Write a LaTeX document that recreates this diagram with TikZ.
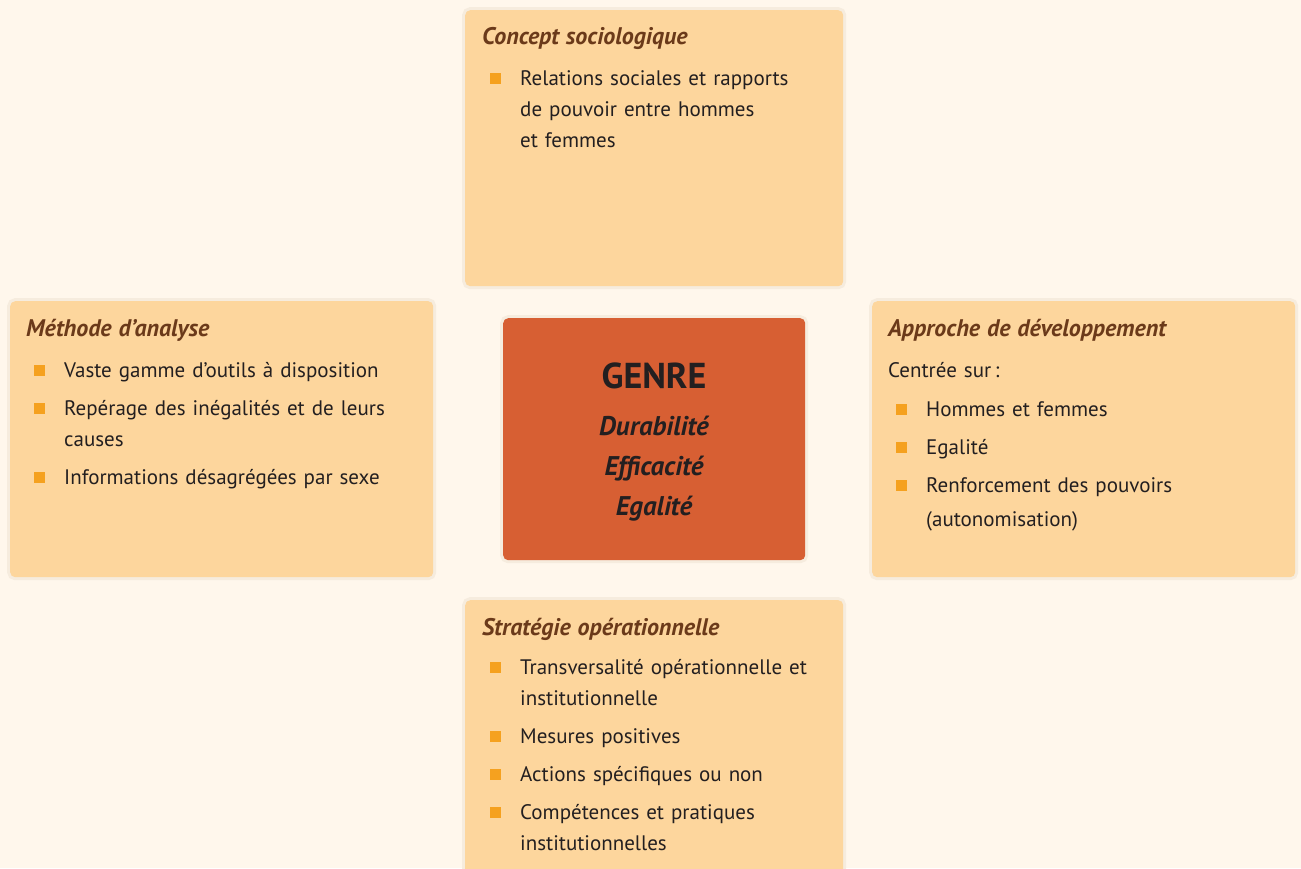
\documentclass[tikz,border=0pt]{standalone}
\usepackage{fontspec}
\setmainfont{PT Sans}
\usepackage{xcolor}
\usepackage{tikz}
\usetikzlibrary{positioning,calc}
\definecolor{bgcream}{HTML}{FFF7EC}
\definecolor{boxfill}{HTML}{FDD69D}
\definecolor{genrefill}{HTML}{D75F33}
\definecolor{bulletc}{HTML}{F5A11F}
\definecolor{titlec}{HTML}{6B3A1A}
\definecolor{textc}{HTML}{231F20}
\definecolor{haloc}{HTML}{F6ECDE}
\tikzstyle{card} = [rectangle, rounded corners=5pt, fill=boxfill, anchor=north west, preaction={draw=haloc, line width=6pt}]
\tikzstyle{genre} = [rectangle, rounded corners=5pt, fill=genrefill, anchor=north west, preaction={draw=haloc, line width=6pt}]
\tikzstyle{cardtext} = [anchor=north west, inner sep=0pt, align=left, text=textc, font=\fontsize{21}{31}\selectfont]
\newcommand{\cardtitle}[1]{{\color{titlec}\fontsize{24}{31}\selectfont\bfseries\itshape #1}\par}
\newenvironment{cardlist}{\begin{list}{\textcolor{bulletc}{\raisebox{1pt}{\rule{11pt}{11pt}}}}{\setlength{\leftmargin}{38pt}\setlength{\labelwidth}{11pt}\setlength{\labelsep}{19pt}\setlength{\itemsep}{7pt}\setlength{\topsep}{0pt}\setlength{\parsep}{0pt}\setlength{\partopsep}{0pt}}}{\end{list}}
\begin{document}
\begin{tikzpicture}[x=1pt, y=-1pt]
        \fill[bgcream] (0,0) rectangle (1301,868);
        \useasboundingbox (0,0) rectangle (1301,868);
        \node[card, minimum width=378pt, minimum height=276pt] (concept) at (465,10) {};
        \node[card, minimum width=423pt, minimum height=276pt] (methode) at (10,301) {};
        \node[card, minimum width=423pt, minimum height=276pt] (approche) at (872,301) {};
        \node[card, minimum width=378pt, minimum height=290pt] (strategie) at (465,600) {};
        \node[genre, minimum width=302pt, minimum height=242pt] (genreBox) at (503,318) {};
        \node[cardtext, text width=350pt] (conceptTxt) at ([xshift=17pt, yshift=-17pt]concept.north west) {\cardtitle{Concept sociologique}\vspace{10pt}
          \begin{cardlist}\item Relations sociales et rapports\\ de pouvoir entre hommes\\ et femmes\end{cardlist}};
        \node[cardtext, text width=400pt] (methodeTxt) at ([xshift=16pt, yshift=-18pt]methode.north west) {\cardtitle{Méthode d’analyse}\vspace{10pt}
          \begin{cardlist}\item Vaste gamme d’outils à disposition
          \item Repérage des inégalités et de leurs\\ causes
          \item Informations désagrégées par sexe\end{cardlist}};
        \node[cardtext, text width=400pt] (approcheTxt) at ([xshift=16pt, yshift=-18pt]approche.north west) {\cardtitle{Approche de développement}\vspace{10pt}
          Centrée sur\,:\par\vspace{8pt}
          \begin{cardlist}\item Hommes et femmes
          \item Egalité
          \item Renforcement des pouvoirs\\[3pt] (autonomisation)\end{cardlist}};
        \node[cardtext, text width=350pt] (strategieTxt) at ([xshift=17pt, yshift=-18pt]strategie.north west) {\cardtitle{Stratégie opérationnelle}\vspace{8pt}
          \begin{cardlist}\item Transversalité opérationnelle et\\ institutionnelle
          \item Mesures positives
          \item Actions spécifiques ou non
          \item Compétences et pratiques\\ institutionnelles\end{cardlist}};
        \node[text=textc, inner sep=0pt, font=\fontsize{36}{48}\selectfont\bfseries] (genreTitle) at (654,376) {GENRE};
        \node[text=textc, inner sep=0pt, align=center, font=\fontsize{27}{40}\selectfont\bfseries\itshape] (genreVals) at (654,469) {Durabilité\\ Efficacité\\ Egalité};
        % \draw[dashed] (concept) -- (genreBox);
\end{tikzpicture}
\end{document}
